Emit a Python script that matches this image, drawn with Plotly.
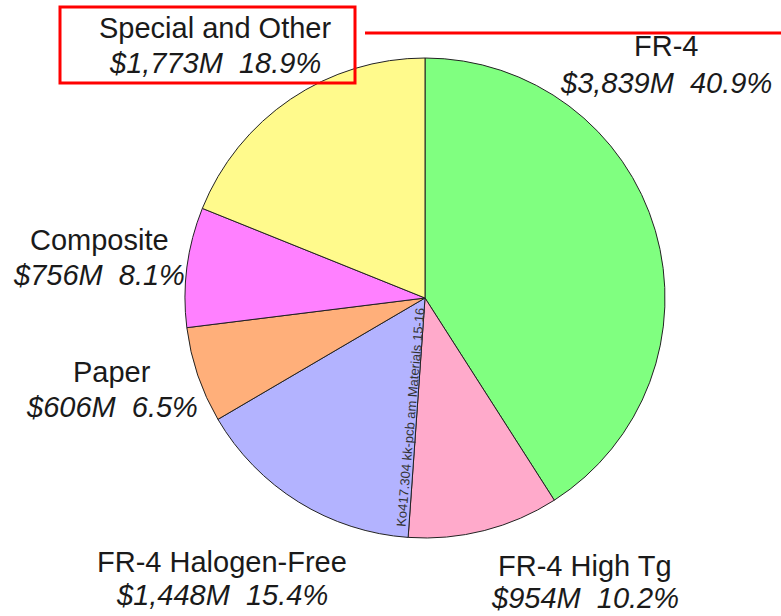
import plotly.graph_objects as go

labels = ["FR-4", "FR-4 High Tg", "FR-4 Halogen-Free", "Paper", "Composite", "Special and Other"]
values_musd = [3839, 954, 1448, 606, 756, 1773]
shares = [40.9, 10.2, 15.4, 6.5, 8.1, 18.9]
colors = ["#80FF80", "#FFAACB", "#B3B3FF", "#FFAF7A", "#FF80FF", "#FFFA8C"]

W, H = 781, 616
cx, cy, r = 425, 298, 240
FS = 29
FONT = "Liberation Sans, Arial, sans-serif"

fig = go.Figure(go.Pie(
    labels=labels, values=values_musd, sort=False, direction="clockwise", rotation=0,
    marker=dict(colors=colors, line=dict(color="#222222", width=1)),
    textinfo="none", hoverinfo="label+value+percent", showlegend=False,
    domain=dict(x=[(cx - r) / W, (cx + r) / W], y=[1 - (cy + r) / H, 1 - (cy - r) / H]),
))

# label anchor: centre x, baseline of name line, baseline of value line (pixels)
label_pos = [(666, 56, 93), (585, 576, 608), (222, 572, 605), (112, 382, 417), (99, 250, 285), (215, 38, 73)]
for name, v, s, (px, b1, b2) in zip(labels, values_musd, shares, label_pos):
    for txt, base in ((name, b1), (f"<i>${v:,}M  {s}%</i>", b2)):
        fig.add_annotation(
            x=px / W, y=1 - (base - 0.33 * FS) / H, xref="paper", yref="paper",
            xanchor="center", yanchor="middle", text=txt, showarrow=False,
            font=dict(family=FONT, size=FS, color="#1a1a1a"),
        )

# watermark text along slice boundary
fig.add_annotation(
    x=410 / W, y=1 - 417 / H, xref="paper", yref="paper", xanchor="center", yanchor="middle",
    text="Ko417.304 kk-pcb am Materials 15-16", showarrow=False, textangle=-85,
    font=dict(family=FONT, size=13, color="#333333"),
)

# red highlight box and line
fig.add_shape(type="rect", xref="paper", yref="paper",
              x0=60 / W, x1=355 / W, y0=1 - 83 / H, y1=1 - 7 / H,
              line=dict(color="#FF0000", width=3))
fig.add_shape(type="line", xref="paper", yref="paper",
              x0=365 / W, x1=1, y0=1 - 33 / H, y1=1 - 33 / H,
              line=dict(color="#FF0000", width=3))

fig.update_layout(width=W, height=H, margin=dict(l=0, r=0, t=0, b=0),
                  paper_bgcolor="white", plot_bgcolor="white")
fig.write_html("out.html", config={"displayModeBar": False},
               post_script="document.body.style.margin='0';document.body.style.overflow='hidden';")
